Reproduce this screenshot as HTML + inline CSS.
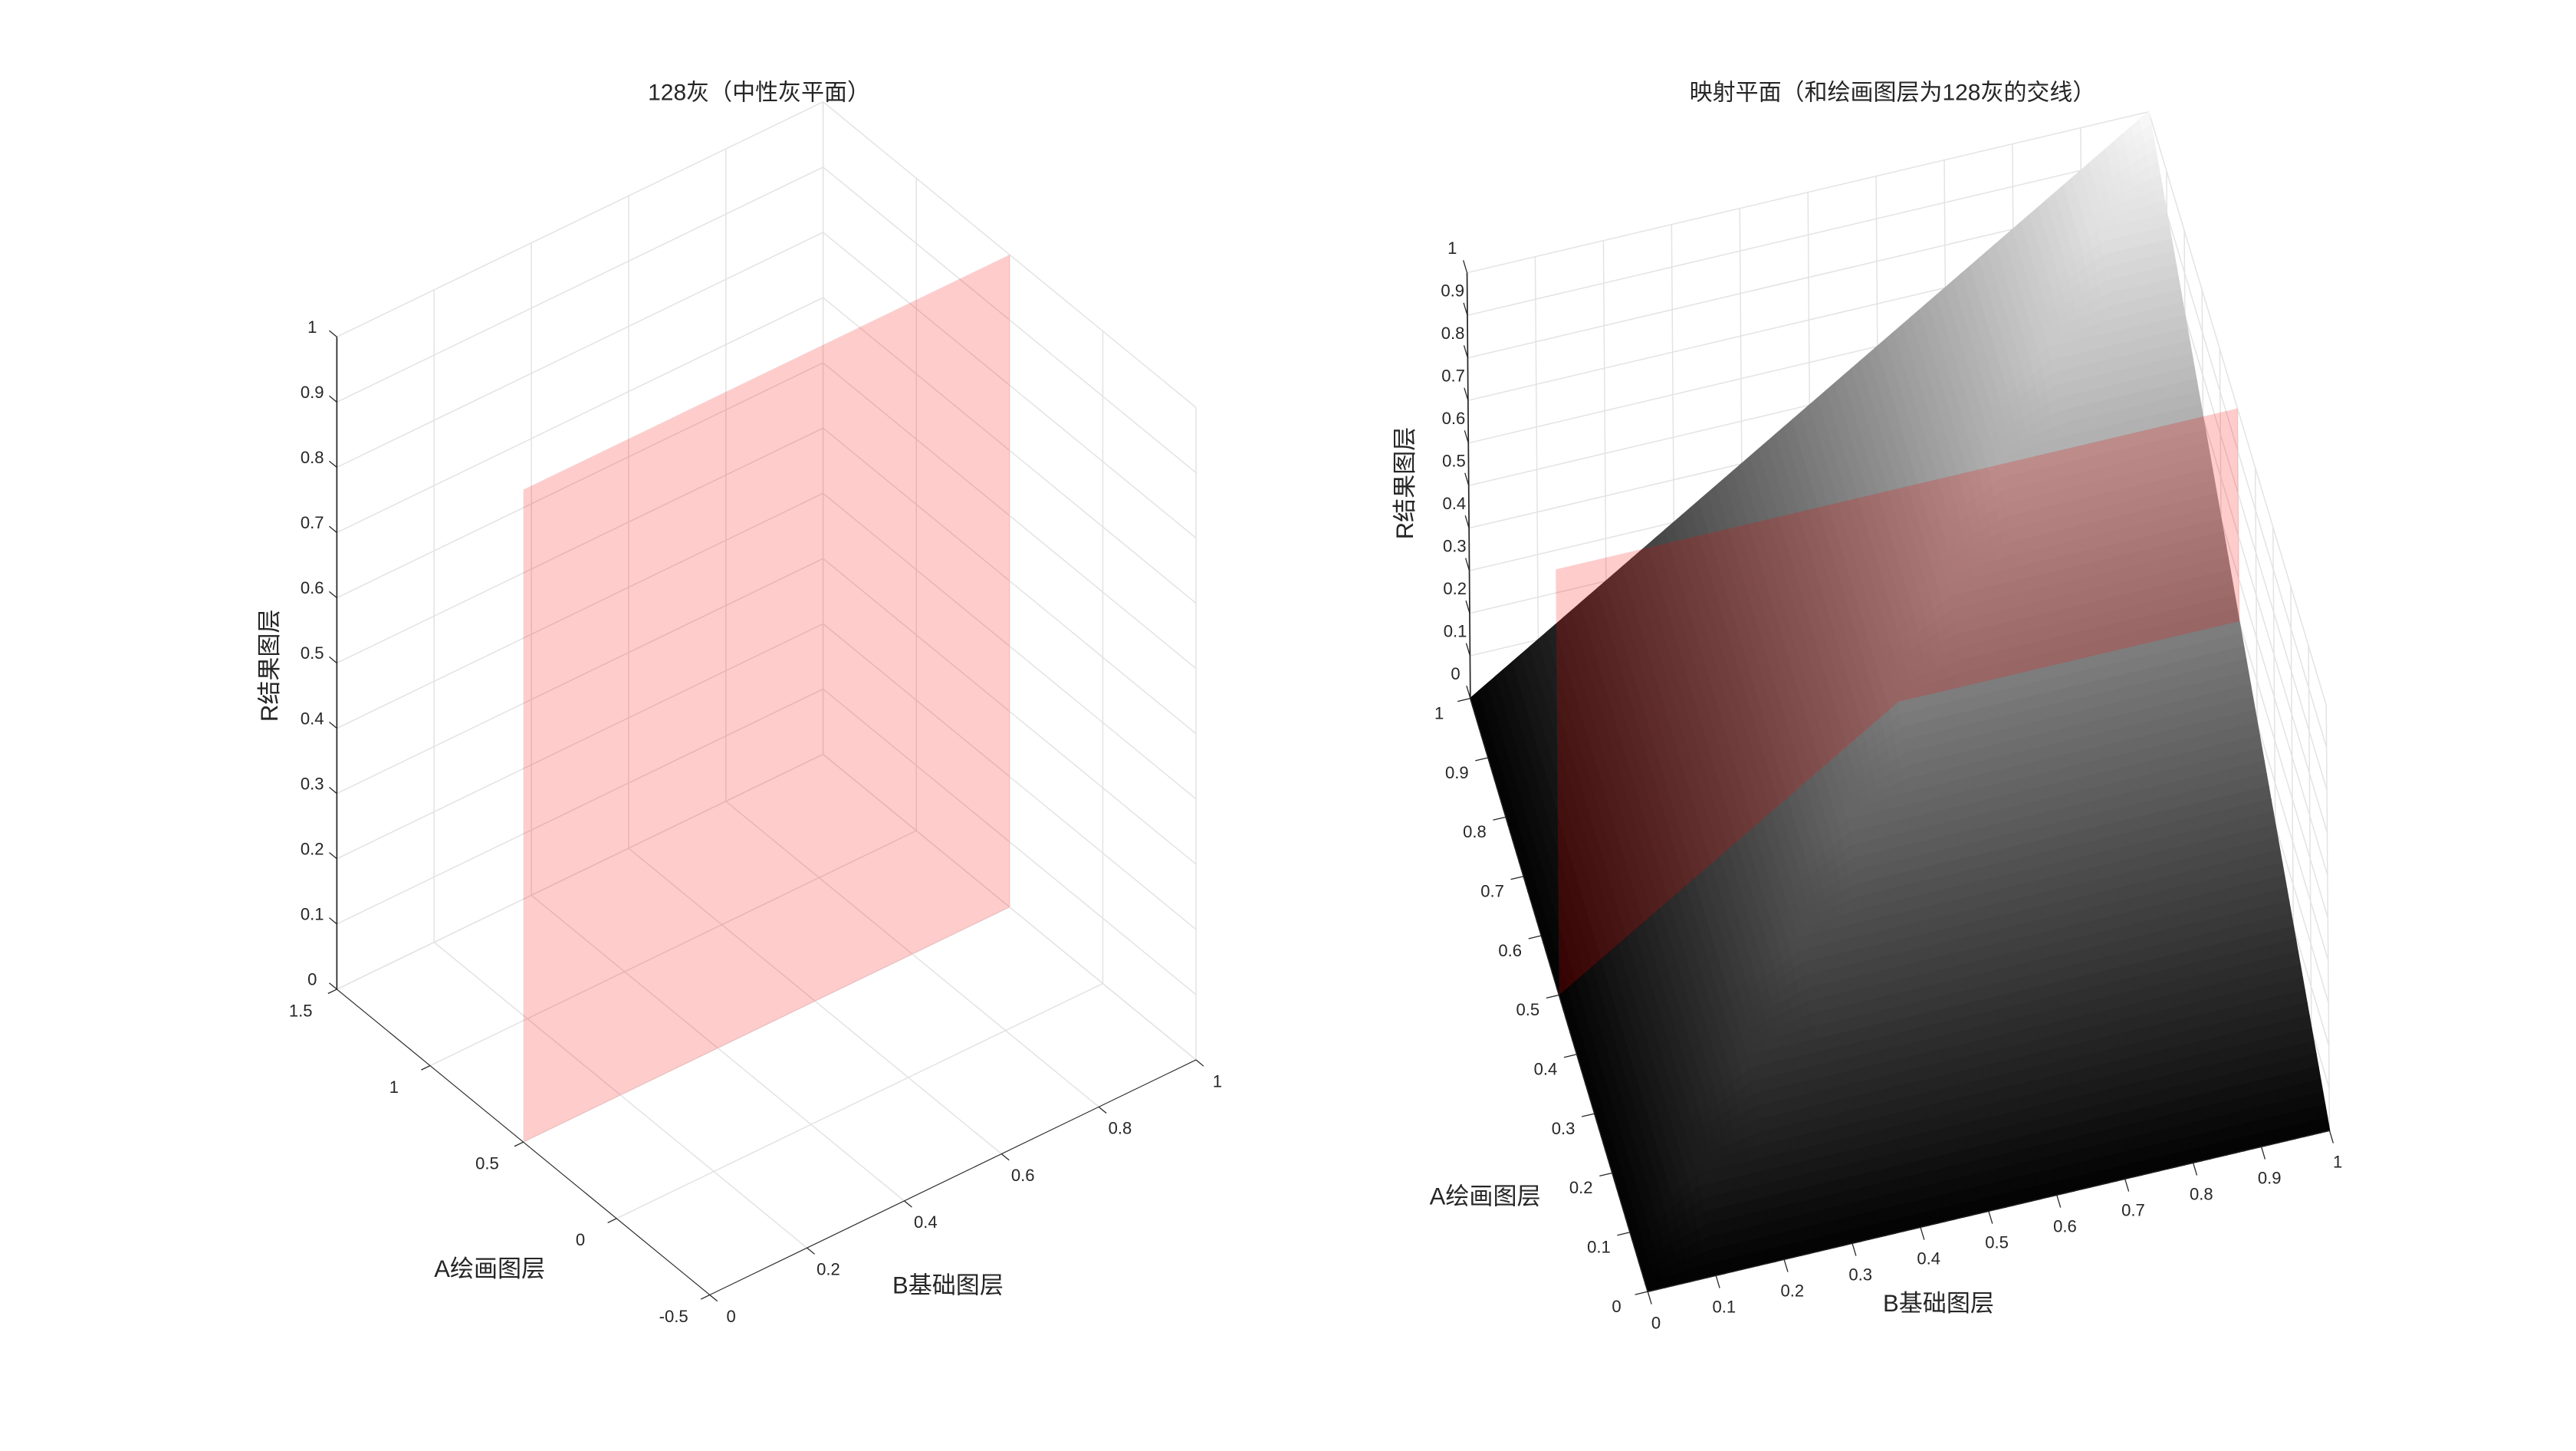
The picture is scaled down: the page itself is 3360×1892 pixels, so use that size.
<!DOCTYPE html>
<html><head><meta charset="utf-8">
<style>
html,body{margin:0;padding:0;background:#fff;}
svg{display:block;}
text{font-family:"Liberation Sans","Noto Sans CJK SC",sans-serif;fill:#262626;}
</style></head>
<body>
<svg id="fig" width="3360" height="1892" viewBox="0 0 1568 883" xmlns="http://www.w3.org/2000/svg">
<g id="left"></g>
<g id="right"></g>
<text x="462" y="61" text-anchor="middle" font-size="14">128灰（中性灰平面）</text>
<text x="1152" y="61" text-anchor="middle" font-size="14">映射平面（和绘画图层为128灰的交线）</text>
<text transform="translate(169,405) rotate(-90)" text-anchor="middle" font-size="14.5">R结果图层</text>
<text x="298" y="777" text-anchor="middle" font-size="14.5">A绘画图层</text>
<text x="577" y="787" text-anchor="middle" font-size="14.5">B基础图层</text>
<text transform="translate(860,294) rotate(-90)" text-anchor="middle" font-size="14.5">R结果图层</text>
<text x="904" y="733" text-anchor="middle" font-size="14.5">A绘画图层</text>
<text x="1180" y="798" text-anchor="middle" font-size="14.5">B基础图层</text>
</svg>
<script>
// ---- data ----
const leftBTicks = [0, 0.2, 0.4, 0.6, 0.8, 1];
const leftATicks = [-0.5, 0, 0.5, 1, 1.5];
const leftZTicks = [0, 0.1, 0.2, 0.3, 0.4, 0.5, 0.6, 0.7, 0.8, 0.9, 1];
const leftPlaneA = 0.5;
const rightBTicks = [0, 0.1, 0.2, 0.3, 0.4, 0.5, 0.6, 0.7, 0.8, 0.9, 1];
const rightATicks = [0, 0.1, 0.2, 0.3, 0.4, 0.5, 0.6, 0.7, 0.8, 0.9, 1];
const rightZTicks = [0, 0.1, 0.2, 0.3, 0.4, 0.5, 0.6, 0.7, 0.8, 0.9, 1];
const rightPlaneA = 0.5;
const gridB = [0, 0.1, 0.2, 0.3, 0.4, 0.5, 0.6, 0.7, 0.8, 0.9, 1];
const gridA = [0, 0.1, 0.2, 0.3, 0.4, 0.5, 0.6, 0.7, 0.8, 0.9, 1];
// surfaceR[rowA][colB]
const surfaceR = [
[0,0,0,0,0,0,0,0,0,0,0],
[0,0.1,0.1,0.1,0.1,0.1,0.1,0.1,0.1,0.1,0.1],
[0,0.1,0.2,0.2,0.2,0.2,0.2,0.2,0.2,0.2,0.2],
[0,0.1,0.2,0.3,0.3,0.3,0.3,0.3,0.3,0.3,0.3],
[0,0.1,0.2,0.3,0.4,0.4,0.4,0.4,0.4,0.4,0.4],
[0,0.1,0.2,0.3,0.4,0.5,0.5,0.5,0.5,0.5,0.5],
[0,0.1,0.2,0.3,0.4,0.5,0.6,0.6,0.6,0.6,0.6],
[0,0.1,0.2,0.3,0.4,0.5,0.6,0.7,0.7,0.7,0.7],
[0,0.1,0.2,0.3,0.4,0.5,0.6,0.7,0.8,0.8,0.8],
[0,0.1,0.2,0.3,0.4,0.5,0.6,0.7,0.8,0.9,0.9],
[0,0.1,0.2,0.3,0.4,0.5,0.6,0.7,0.8,0.9,1]
];
// ---- projections ----
const NS='http://www.w3.org/2000/svg';
function PL(b,a,z){ return [432+296*b-113.5*(a+0.5), 788-143*b-93*(a+0.5)-397*z]; }
function PR(b,a,z){ return [1003+415*b-108*a-2*z, 786-98*b-361*a-259*z]; }
function mk(parent,tag,attrs){const e=document.createElementNS(NS,tag);for(const k in attrs)e.setAttribute(k,attrs[k]);parent.appendChild(e);return e;}
function line(g,p,q,stroke,w,name){const e=mk(g,'line',{x1:p[0],y1:p[1],x2:q[0],y2:q[1],stroke:stroke,'stroke-width':w});


return e;}
function txt(g,p,s,name){const e=mk(g,'text',{x:p[0],y:p[1]+3.5,'text-anchor':'middle','font-size':10.3});e.textContent=s;


return e;}
function poly(g,pts,fill,op,name){const e=mk(g,'polygon',{points:pts.map(p=>p[0].toFixed(2)+','+p[1].toFixed(2)).join(' '),fill:fill,'fill-opacity':op});


return e;}
function unit(v,l){const n=Math.hypot(v[0],v[1]);return [v[0]/n*l,v[1]/n*l];}
function add(p,v){return [p[0]+v[0],p[1]+v[1]];}
const GC='#e3e3e3', AC='#262626';

// ---- left plot ----
(function(){
 const g=document.getElementById('left');
 const a0=leftATicks[0], a1=leftATicks[leftATicks.length-1];
 const b0=leftBTicks[0], b1=leftBTicks[leftBTicks.length-1];
 leftBTicks.forEach(b=>{line(g,PL(b,a0,0),PL(b,a1,0),GC,0.7,'floor-grid-b');line(g,PL(b,a1,0),PL(b,a1,1),GC,0.7,'back-wall-grid-b');});
 leftATicks.forEach(a=>{line(g,PL(b0,a,0),PL(b1,a,0),GC,0.7,'floor-grid-a');line(g,PL(b1,a,0),PL(b1,a,1),GC,0.7,'side-wall-grid-a');});
 leftZTicks.forEach(z=>{line(g,PL(b0,a1,z),PL(b1,a1,z),GC,0.7,'back-wall-grid-z');line(g,PL(b1,a1,z),PL(b1,a0,z),GC,0.7,'side-wall-grid-z');});
 poly(g,[PL(0,leftPlaneA,0),PL(1,leftPlaneA,0),PL(1,leftPlaneA,1),PL(0,leftPlaneA,1)],'#ff0000',0.2,'neutral-gray-plane');
 line(g,PL(b0,a1,0),PL(b0,a1,1),AC,0.8,'z-axis-line');
 line(g,PL(b0,a0,0),PL(b0,a1,0),AC,0.5,'a-axis-line');
 line(g,PL(b0,a0,0),PL(b1,a0,0),AC,0.5,'b-axis-line');
 const tz=unit([-227,-186],6), ta=unit([-296,143],6), tb=unit([227,186],6);
 leftZTicks.forEach(z=>{const p=PL(b0,a1,z);line(g,p,add(p,tz),AC,0.6,'z-tick');txt(g,[p[0]-15,p[1]-6],String(z),'z-tick-label');});
 leftATicks.forEach(a=>{const p=PL(b0,a,0);line(g,p,add(p,ta),AC,0.6,'a-tick');txt(g,[p[0]-22,p[1]+13],String(a),'a-tick-label');});
 leftBTicks.forEach(b=>{const p=PL(b,a0,0);line(g,p,add(p,tb),AC,0.6,'b-tick');txt(g,[p[0]+13,p[1]+13],String(b),'b-tick-label');});
})();

// ---- right plot ----
(function(){
 const g=document.getElementById('right');
 rightBTicks.forEach(b=>{line(g,PR(b,1,0),PR(b,1,1),GC,0.7,'back-wall-grid-b');line(g,PR(b,0,0),PR(b,1,0),GC,0.7,'floor-grid-b');});
 rightATicks.forEach(a=>{line(g,PR(1,a,0),PR(1,a,1),GC,0.7,'side-wall-grid-a');line(g,PR(0,a,0),PR(1,a,0),GC,0.7,'floor-grid-a');});
 rightZTicks.forEach(z=>{line(g,PR(0,1,z),PR(1,1,z),GC,0.7,'back-wall-grid-z');line(g,PR(1,1,z),PR(1,0,z),GC,0.7,'side-wall-grid-z');});
 line(g,PR(0,1,0),PR(0,1,1),AC,0.8,'z-axis-line');
 // surface
 const sg=mk(g,'g',{});
 
 
 const nA=gridA.length-1, nB=gridB.length-1, S=8;
 function R(a,b){ // bilinear from table
  let i=Math.min(nA-1,Math.floor(a*nA)), j=Math.min(nB-1,Math.floor(b*nB));
  const fa=(a-gridA[i])/(gridA[i+1]-gridA[i]), fb=(b-gridB[j])/(gridB[j+1]-gridB[j]);
  return surfaceR[i][j]*(1-fa)*(1-fb)+surfaceR[i+1][j]*fa*(1-fb)+surfaceR[i][j+1]*(1-fa)*fb+surfaceR[i+1][j+1]*fa*fb;
 }
 const N=nA*S, M=nB*S;
 for(let i=N-1;i>=0;i--){for(let j=0;j<M;j++){
  const a0=i/N,a1=(i+1)/N,b0=j/M,b1=(j+1)/M;
  const z00=R(a0,b0),z01=R(a0,b1),z10=R(a1,b0),z11=R(a1,b1);
  const zm=(z00+z01+z10+z11)/4;
  const c=Math.round(255*Math.min(1,zm*0.97+0.01));
  const col='rgb('+c+','+c+','+c+')';
  const pts=[PR(b0,a0,z00),PR(b1,a0,z01),PR(b1,a1,z11),PR(b0,a1,z10)];
  const e=mk(sg,'polygon',{points:pts.map(p=>p[0].toFixed(2)+','+p[1].toFixed(2)).join(' '),fill:col,stroke:col,'stroke-width':0.8});
  
  
 }}
 // plane above surface at A=rightPlaneA
 const ri=gridA.indexOf(rightPlaneA);
 const pts=[];
 gridB.forEach((b,j)=>pts.push(PR(b,rightPlaneA,surfaceR[ri][j])));
 pts.push(PR(1,rightPlaneA,1)); pts.push(PR(0,rightPlaneA,1));
 poly(g,pts,'#ff0000',0.2,'gray128-plane');
 line(g,PR(0,0,0),PR(0,1,0),AC,0.5,'a-axis-line');
 line(g,PR(0,0,0),PR(1,0,0),AC,0.5,'b-axis-line');
 const tz=unit([-108,-361],8), ta=unit([-415,98],8), tb=unit([108,361],8);
 rightZTicks.forEach(z=>{const p=PR(0,1,z);line(g,p,add(p,tz),AC,0.6,'z-tick');txt(g,[p[0]-9,p[1]-15],String(z),'z-tick-label');});
 rightATicks.forEach(a=>{const p=PR(0,a,0);line(g,p,add(p,ta),AC,0.6,'a-tick');txt(g,[p[0]-19,p[1]+9],String(a),'a-tick-label');});
 rightBTicks.forEach(b=>{const p=PR(b,0,0);line(g,p,add(p,tb),AC,0.6,'b-tick');txt(g,[p[0]+5,p[1]+19],String(b),'b-tick-label');});
})();
</script>
</body></html>
